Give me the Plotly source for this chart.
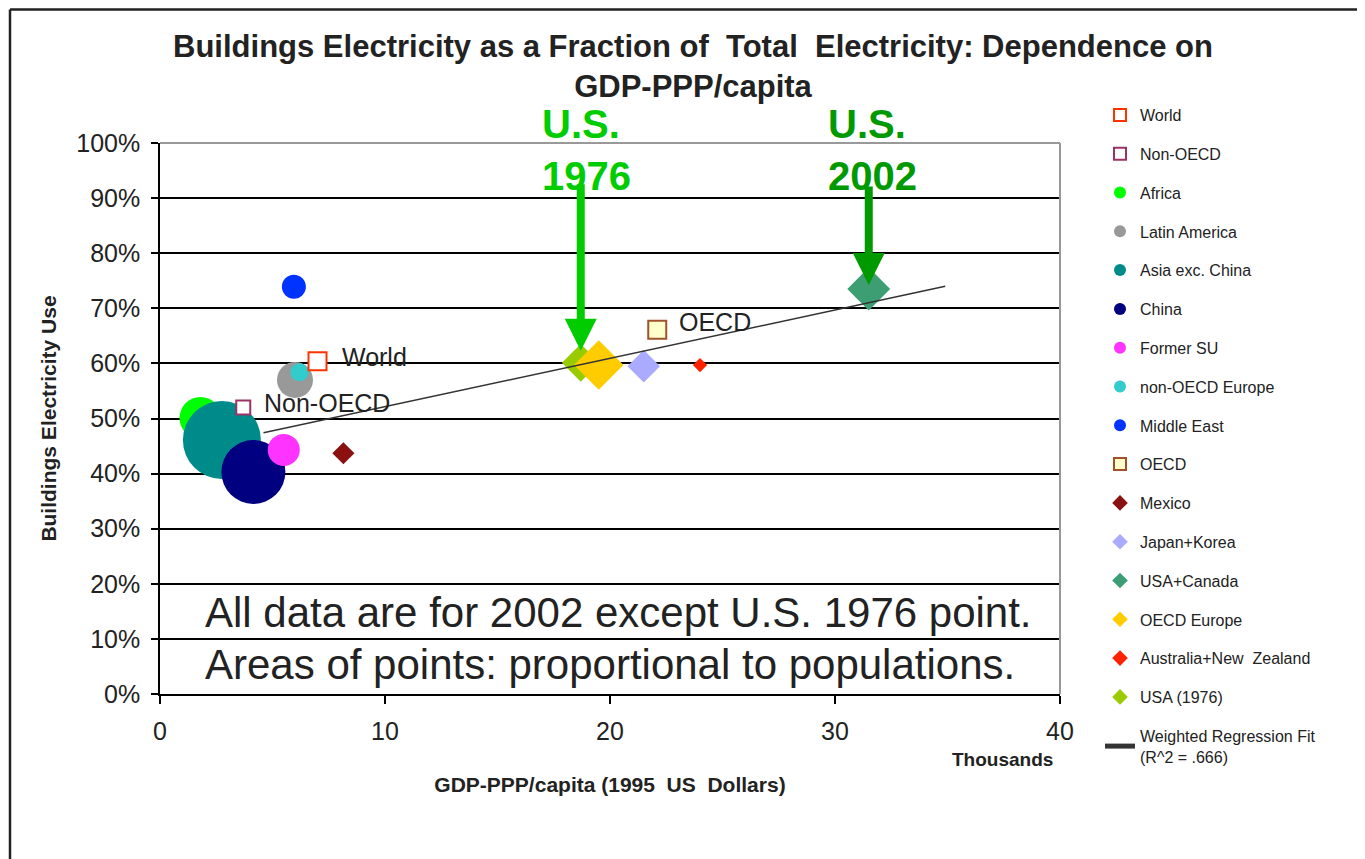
import plotly.graph_objects as go

# ---------------- data ----------------
regions = ["World", "Non-OECD", "Africa", "Latin America", "Asia exc. China", "China",
           "Former SU", "non-OECD Europe", "Middle East", "OECD", "Mexico", "Japan+Korea",
           "USA+Canada", "OECD Europe", "Australia+New  Zealand", "USA (1976)"]
gdp_thousands = [7.0, 3.7, 1.8, 6.0, 2.75, 4.15, 5.5, 6.2, 5.95, 22.1, 8.15, 21.5,
                 31.5, 19.5, 24.0, 18.7]
bldg_share = [0.604, 0.520, 0.501, 0.570, 0.461, 0.403, 0.443, 0.584, 0.739, 0.661,
              0.437, 0.595, 0.735, 0.597, 0.597, 0.601]

fit_x = [4.6, 34.9]
fit_y = [0.474, 0.740]
fit_name = "Weighted Regression Fit<br>(R^2 = .666)"

x_ticks = [0, 10, 20, 30, 40]

# ---------------- styles ----------------
style = {
    "World": dict(symbol="square", size=18, color="white", line=dict(color="#FF3300", width=2)),
    "Non-OECD": dict(symbol="square", size=14, color="white", line=dict(color="#993366", width=2)),
    "Africa": dict(symbol="circle", size=42, color="#00FF00"),
    "Latin America": dict(symbol="circle", size=36, color="#999999"),
    "Asia exc. China": dict(symbol="circle", size=78, color="#008B8B"),
    "China": dict(symbol="circle", size=64, color="#000080"),
    "Former SU": dict(symbol="circle", size=32, color="#FF33FF"),
    "non-OECD Europe": dict(symbol="circle", size=18, color="#33CCCC"),
    "Middle East": dict(symbol="circle", size=24, color="#0033FF"),
    "OECD": dict(symbol="square", size=18, color="#FFFFCC", line=dict(color="#A0522D", width=2)),
    "Mexico": dict(symbol="diamond", size=17, color="#8B1010"),
    "Japan+Korea": dict(symbol="diamond", size=25, color="#AAAAFF"),
    "USA+Canada": dict(symbol="diamond", size=33, color="#3C9E72"),
    "OECD Europe": dict(symbol="diamond", size=38, color="#FFCC00"),
    "Australia+New  Zealand": dict(symbol="diamond", size=11, color="#FF2200"),
    "USA (1976)": dict(symbol="diamond", size=29, color="#99CC00"),
}
draw_order = ["Africa", "Asia exc. China", "China", "Former SU", "Latin America",
              "non-OECD Europe", "Middle East", "World", "Non-OECD", "OECD", "Mexico",
              "Japan+Korea", "USA+Canada", "USA (1976)", "OECD Europe", "Australia+New  Zealand"]

FONT = "Liberation Sans, Arial, sans-serif"
TXT = "#222222"

# page body has an 8px margin: figure is laid out 8px smaller
W, H = 1357, 851


def px(vx):  # viewport x -> paper x
    return (vx - 160) / 900


def py(vy):  # viewport y -> paper y
    return (694 - vy) / 551


fig = go.Figure()
for name in draw_order:
    i = regions.index(name)
    st = style[name]
    mk = dict(symbol=st["symbol"], size=st["size"], color=st["color"],
              line=st.get("line", dict(width=0)))
    fig.add_trace(go.Scatter(
        x=[gdp_thousands[i]], y=[bldg_share[i]], mode="markers", name=name,
        marker=mk, legendrank=i + 1, legendgroup=name, hoverinfo="name+x+y"))

fig.add_trace(go.Scatter(x=fit_x, y=fit_y, mode="lines", name=fit_name,
                         line=dict(color="#333333", width=1.5),
                         legendrank=len(regions) + 1, legendgroup="fit"))


def pt(name):
    i = regions.index(name)
    return gdp_thousands[i], bldg_share[i]


annotations = []
# point labels
for name, xs, ys in [("World", 22, 4), ("Non-OECD", 19, 4), ("OECD", 20, 8)]:
    x, y = pt(name)
    annotations.append(dict(x=x, y=y, xref="x", yref="y", text=name, showarrow=False,
                            xanchor="left", yanchor="middle", xshift=xs, yshift=ys,
                            font=dict(family=FONT, size=25, color=TXT)))
# arrows
x76, y76 = pt("USA (1976)")
annotations.append(dict(x=x76, y=y76, xref="x", yref="y", text="", showarrow=True,
                        ax=0, ay=-180, standoff=12, arrowhead=2, arrowsize=0.8,
                        arrowwidth=8, arrowcolor="#00CC00"))
x02, y02 = pt("USA+Canada")
annotations.append(dict(x=x02, y=y02, xref="x", yref="y", text="", showarrow=True,
                        ax=0, ay=-104, standoff=4, arrowhead=2, arrowsize=0.8,
                        arrowwidth=8, arrowcolor="#009900"))
# U.S. labels
for txt, vx, vy, col in [("<b>U.S.</b>", 540, 124, "#00CC00"), ("<b>1976</b>", 540, 176, "#00CC00"),
                         ("<b>U.S.</b>", 826, 124, "#009900"), ("<b>2002</b>", 826, 176, "#009900")]:
    annotations.append(dict(x=px(vx), y=py(vy), xref="paper", yref="paper",
                            text=txt, showarrow=False, xanchor="left", yanchor="middle",
                            font=dict(family=FONT, size=40, color=col)))
# big notes
for txt, vy in [("All data are for 2002 except U.S. 1976 point.", 612),
                ("Areas of points: proportional to populations.", 664)]:
    annotations.append(dict(x=px(203), y=py(vy), xref="paper", yref="paper",
                            text=txt, showarrow=False, xanchor="left", yanchor="middle",
                            font=dict(family=FONT, size=42, color=TXT)))
# Thousands
annotations.append(dict(x=px(1002), y=py(759), xref="paper", yref="paper",
                        text="<b>Thousands</b>", showarrow=False, xanchor="center", yanchor="middle",
                        font=dict(family=FONT, size=19, color=TXT)))

shapes = [
    # plot area top/right border (gray)
    dict(type="line", xref="x domain", yref="y domain", x0=0, x1=1, y0=1, y1=1,
         line=dict(color="#999999", width=2)),
    dict(type="line", xref="x domain", yref="y domain", x0=1, x1=1, y0=0, y1=1,
         line=dict(color="#999999", width=2)),
    # outer frame (left and top)
    dict(type="line", xref="paper", yref="paper", x0=px(10), x1=px(10),
         y0=py(9.5), y1=py(880), line=dict(color="#222222", width=2.5)),
    dict(type="line", xref="paper", yref="paper", x0=px(10), x1=px(1400),
         y0=py(9.5), y1=py(9.5), line=dict(color="#222222", width=2.5)),
]

fig.update_layout(
    width=W, height=H,
    margin=dict(l=152, r=W - 1052, t=135, b=H - 686, autoexpand=False),
    paper_bgcolor="white", plot_bgcolor="white",
    font=dict(family=FONT, color=TXT),
    title=dict(text="<b>Buildings Electricity as a Fraction of  Total  Electricity: Dependence on<br>GDP-PPP/capita</b>",
               x=(693 - 8) / W, xanchor="center", y=1 - 49 / H, yanchor="top",
               font=dict(family=FONT, size=31, color=TXT)),
    xaxis=dict(range=[0, 40], tickvals=x_ticks, showgrid=False, zeroline=False,
               showline=True, linecolor="black", linewidth=1.5,
               ticks="outside", ticklen=8, tickcolor="black", tickwidth=1.5,
               ticklabelstandoff=6,
               tickfont=dict(family=FONT, size=25, color=TXT),
               title=dict(text="<b>GDP-PPP/capita (1995  US  Dollars)</b>", standoff=34,
                          font=dict(family=FONT, size=21, color=TXT))),
    yaxis=dict(range=[0, 1], dtick=0.1, tickformat=".0%", showgrid=True,
               gridcolor="black", gridwidth=1.5, zeroline=False,
               showline=True, linecolor="black", linewidth=1.5,
               ticks="outside", ticklen=7, tickcolor="black", tickwidth=1.5,
               ticklabelstandoff=6,
               tickfont=dict(family=FONT, size=25, color=TXT),
               title=dict(text="<b>Buildings Electricity Use</b>", standoff=14,
                          font=dict(family=FONT, size=21, color=TXT))),
    legend=dict(x=px(1100), y=py(98), xanchor="left", yanchor="top",
                font=dict(family=FONT, size=16, color=TXT), maxheight=740,
                itemsizing="constant", tracegroupgap=15, bgcolor="rgba(0,0,0,0)"),
    showlegend=True,
    annotations=annotations,
    shapes=shapes,
)

fig.write_html("out.html")
